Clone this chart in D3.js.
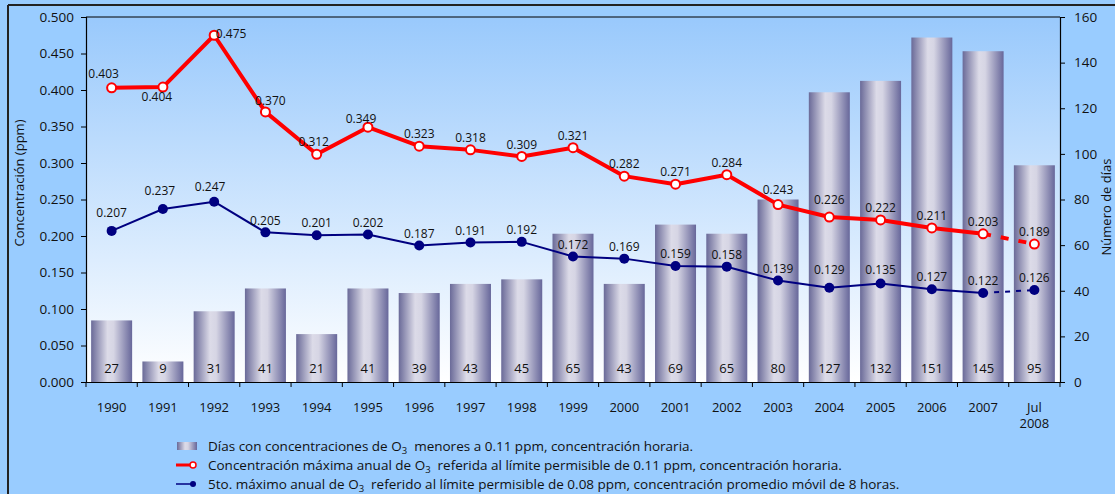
<!DOCTYPE html>
<html>
<head>
<meta charset="utf-8">
<script src="https://cdn.jsdelivr.net/npm/d3@7"></script>
<style>
  body { margin: 0; background: #99ccff; }
  svg { display: block; }
  text { font-family: "Open Sans", "DejaVu Sans", sans-serif; fill: #111; }
</style>
</head>
<body>
<div id="chart"></div>
<script>
// categories
const years = ["1990","1991","1992","1993","1994","1995","1996","1997","1998","1999",
  "2000","2001","2002","2003","2004","2005","2006","2007","Jul 2008"];
// days with O3 < 0.11 ppm (right axis)
const days = [27, 9, 31, 41, 21, 41, 39, 43, 45, 65, 43, 69, 65, 80, 127, 132, 151, 145, 95];
// max annual concentration (ppm)
const maxConc = [0.403, 0.404, 0.475, 0.370, 0.312, 0.349, 0.323, 0.318, 0.309, 0.321,
  0.282, 0.271, 0.284, 0.243, 0.226, 0.222, 0.211, 0.203, 0.189];
// 5th annual maximum, 8h moving average (ppm)
const fifthMax = [0.207, 0.237, 0.247, 0.205, 0.201, 0.202, 0.187, 0.191, 0.192, 0.172,
  0.169, 0.159, 0.158, 0.139, 0.129, 0.135, 0.127, 0.122, 0.126];
const leftTicks = [0, 0.05, 0.1, 0.15, 0.2, 0.25, 0.3, 0.35, 0.4, 0.45, 0.5];
const rightTicks = [0, 20, 40, 60, 80, 100, 120, 140, 160];

const legendItems = [
  "Días con concentraciones de O|3| menores a 0.11 ppm, concentración horaria.",
  "Concentración máxima anual de O|3| referida al límite permisible de 0.11 ppm,  concentración horaria.",
  "5to. máximo anual de O|3| referido al límite permisible de 0.08 ppm, concentración promedio móvil de 8 horas."
];

const W = 1115, H = 494;
const pL = 86, pR = 1060, pT = 17, pB = 382;

const svg = d3.select("#chart").append("svg")
  .attr("width", W).attr("height", H);

const defs = svg.append("defs");
const bg = defs.append("linearGradient").attr("id", "plotbg")
  .attr("x1", 0).attr("y1", 0).attr("x2", 0).attr("y2", 1);
bg.append("stop").attr("offset", "0%").attr("stop-color", "#99c9fc");
bg.append("stop").attr("offset", "100%").attr("stop-color", "#ffffff");

const barg = defs.append("linearGradient").attr("id", "bargrad")
  .attr("x1", 0).attr("y1", 0).attr("x2", 1).attr("y2", 0);
barg.append("stop").attr("offset", "0%").attr("stop-color", "#6a6a98");
barg.append("stop").attr("offset", "40%").attr("stop-color", "#dcdbe8");
barg.append("stop").attr("offset", "55%").attr("stop-color", "#d6d5e4");
barg.append("stop").attr("offset", "100%").attr("stop-color", "#67679a");

// outer frame lines
svg.append("line").attr("x1", 8).attr("x2", 8).attr("y1", 5).attr("y2", H)
  .attr("stroke", "#222").attr("stroke-width", 2);
svg.append("line").attr("x1", 8).attr("x2", W).attr("y1", 5).attr("y2", 5)
  .attr("stroke", "#222").attr("stroke-width", 2);

svg.append("rect").attr("x", pL).attr("y", pT)
  .attr("width", pR - pL).attr("height", pB - pT)
  .attr("fill", "url(#plotbg)");
svg.append("line").attr("x1", pL).attr("x2", pR).attr("y1", pT).attr("y2", pT)
  .attr("stroke", "#000");

const xOuter = d3.scaleBand().domain(years).range([pL, pR]);
const y = d3.scaleLinear().domain([0, 0.5]).range([pB, pT]);
const y2 = d3.scaleLinear().domain([0, 160]).range([pB, pT]);
const cx = d => xOuter(d) + xOuter.bandwidth() / 2;

// bars
svg.selectAll(".bar").data(years).enter().append("rect")
  .attr("class", "bar")
  .attr("x", d => cx(d) - 20.5)
  .attr("width", 41)
  .attr("y", (d, i) => y2(days[i]))
  .attr("height", (d, i) => pB - y2(days[i]))
  .attr("fill", "url(#bargrad)");

svg.selectAll(".barlabel").data(years).enter().append("text")
  .attr("x", d => cx(d)).attr("y", pB - 9)
  .attr("text-anchor", "middle").attr("font-size", 13)
  .text((d, i) => days[i]);

// axes
const axL = svg.append("g").attr("transform", `translate(${pL},0)`)
  .call(d3.axisLeft(y).tickValues(leftTicks).tickFormat(d3.format(".3f")).tickSize(5));
const axR = svg.append("g").attr("transform", `translate(${pR},0)`)
  .call(d3.axisRight(y2).tickValues(rightTicks).tickSize(5));
const axB = svg.append("g").attr("transform", `translate(0,${pB})`)
  .call(d3.axisBottom(xOuter).tickSize(0).tickFormat(""));
[axL, axR, axB].forEach(a => {
  a.select(".domain").attr("stroke", "#000").attr("stroke-width", 1.2);
  a.selectAll("line").attr("stroke", "#000");
  a.selectAll("text").attr("font-size", 13.5).attr("fill", "#111")
    .attr("font-family", "'Open Sans', 'DejaVu Sans', sans-serif");
});
axL.selectAll("text").attr("dx", -4);
axR.selectAll("text").attr("dx", 6);
// category boundary ticks
svg.selectAll(".btick").data(years.concat(["end"])).enter().append("line")
  .attr("x1", (d, i) => i < years.length ? xOuter(d) : pR)
  .attr("x2", (d, i) => i < years.length ? xOuter(d) : pR)
  .attr("y1", pB).attr("y2", pB + 5).attr("stroke", "#000");
svg.selectAll(".xlab").data(years).enter().append("text")
  .attr("x", d => cx(d)).attr("y", 412)
  .attr("text-anchor", "middle").attr("font-size", 13)
  .each(function(d) {
    const parts = d.split(" ");
    d3.select(this).selectAll("tspan").data(parts).enter().append("tspan")
      .attr("x", cx(d)).attr("dy", (p, j) => j === 0 ? 0 : 16).text(p => p);
  });

svg.append("text").attr("transform", "translate(24,183) rotate(-90)")
  .attr("text-anchor", "middle").attr("font-size", 13).text("Concentración (ppm)");
svg.append("text").attr("transform", "translate(1111,207) rotate(-90)")
  .attr("text-anchor", "middle").attr("font-size", 13).text("Número de días");

// lines
const n = years.length;
const solidIdx = d3.range(n - 1);
const dashIdx = [n - 2, n - 1];

function drawSeries(vals, color, w, dash) {
  svg.append("path").datum(solidIdx)
    .attr("d", d3.line().x(i => cx(years[i])).y(i => y(vals[i])))
    .attr("fill", "none").attr("stroke", color).attr("stroke-width", w)
    .attr("stroke-linejoin", "round");
  svg.append("path").datum(dashIdx)
    .attr("d", d3.line().x(i => cx(years[i])).y(i => y(vals[i])))
    .attr("fill", "none").attr("stroke", color).attr("stroke-width", w)
    .attr("stroke-dasharray", dash);
}
drawSeries(maxConc, "#ff0000", 4, "8,10");
drawSeries(fifthMax, "#000080", 2, "5,6");

svg.selectAll(".rdot").data(years).enter().append("circle")
  .attr("cx", d => cx(d)).attr("cy", (d, i) => y(maxConc[i])).attr("r", 4.5)
  .attr("fill", "#fff").attr("stroke", "#ff0000").attr("stroke-width", 2);
svg.selectAll(".bdot").data(years).enter().append("circle")
  .attr("cx", d => cx(d)).attr("cy", (d, i) => y(fifthMax[i])).attr("r", 5)
  .attr("fill", "#000080");

// value label nudges (dx, dy of label centre from the point)
const redNudge = { "1990": [-8, -14], "1991": [-6, 10], "1992": [17, -1], "1993": [5, -11],
  "1994": [-3, -12], "1995": [-7, -8], "2004": [0, -17], "2003": [0, -15] };
const blueNudge = { "1990": [0, -18], "1991": [-3, -18], "1992": [-4, -15], "2004": [0, -18], "2005": [0, -14] };

function labels(vals, nudge) {
  svg.selectAll(null).data(years).enter().append("text")
    .attr("x", (d) => cx(d) + (nudge[d] ? nudge[d][0] : 0))
    .attr("y", (d, i) => y(vals[i]) + (nudge[d] ? nudge[d][1] : -12))
    .attr("dy", "0.35em").attr("text-anchor", "middle").attr("font-size", 12)
    .text((d, i) => d3.format(".3f")(vals[i]));
}
labels(maxConc, redNudge);
labels(fifthMax, blueNudge);

// legend
const lg = svg.append("g");
const rows = [446, 465, 484];
lg.append("rect").attr("x", 177).attr("y", rows[0] - 4).attr("width", 20).attr("height", 8)
  .attr("fill", "url(#bargrad)");
lg.append("line").attr("x1", 176).attr("x2", 193).attr("y1", rows[1]).attr("y2", rows[1])
  .attr("stroke", "#ff0000").attr("stroke-width", 3);
lg.append("circle").attr("cx", 193).attr("cy", rows[1]).attr("r", 3)
  .attr("fill", "#fff").attr("stroke", "#ff0000").attr("stroke-width", 1.5);
lg.append("line").attr("x1", 176).attr("x2", 193).attr("y1", rows[2]).attr("y2", rows[2])
  .attr("stroke", "#000080").attr("stroke-width", 1.5);
lg.append("circle").attr("cx", 193).attr("cy", rows[2]).attr("r", 3).attr("fill", "#000080");

legendItems.forEach((s, i) => {
  const parts = s.split("|");
  const t = lg.append("text").attr("x", 208).attr("y", rows[i]).attr("dy", "0.35em")
    .attr("font-size", 13.5);
  t.append("tspan").text(parts[0]);
  t.append("tspan").attr("font-size", 9.5).attr("dy", 3).text(parts[1]);
  t.append("tspan").attr("dy", -3).text("\u00a0" + parts[2]);
});
</script>
</body>
</html>
